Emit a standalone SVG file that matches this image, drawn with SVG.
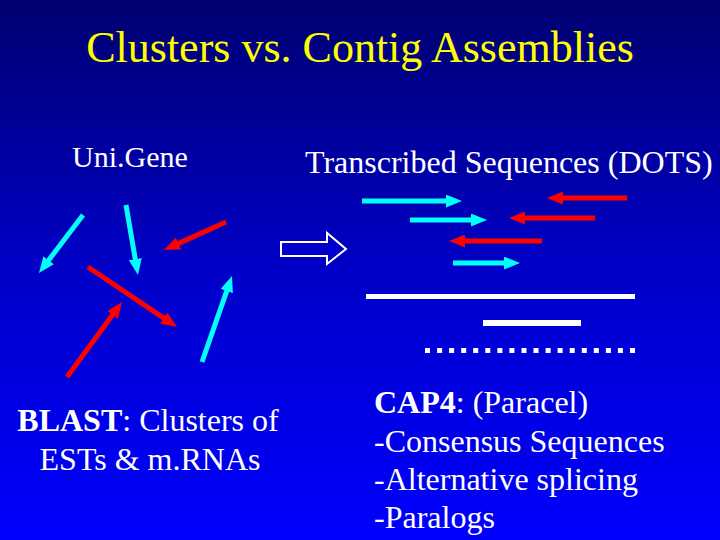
<svg xmlns="http://www.w3.org/2000/svg" width="720" height="540" viewBox="0 0 720 540">
  <defs>
    <linearGradient id="bg" x1="0" y1="0" x2="0" y2="1">
      <stop offset="0" stop-color="#000070"/>
      <stop offset="0.5" stop-color="#0000C8"/>
      <stop offset="1" stop-color="#0000FF"/>
    </linearGradient>
    <marker id="hc" markerUnits="userSpaceOnUse" viewBox="0 0 16 13" refX="6" refY="6.5" markerWidth="16" markerHeight="13" orient="auto">
      <path d="M0,0 L16,6.5 L0,13 Z" fill="#00FFFF"/>
    </marker>
    <marker id="hr" markerUnits="userSpaceOnUse" viewBox="0 0 16 13" refX="6" refY="6.5" markerWidth="16" markerHeight="13" orient="auto">
      <path d="M0,0 L16,6.5 L0,13 Z" fill="#FF0000"/>
    </marker>
  </defs>
  <style>
    text { font-family: 'Liberation Serif', 'DejaVu Serif', 'Times New Roman', serif; }
    .t { fill: #FFFFFF; }
    .title { fill: #FFFF00; font-size: 44px; }
    .b { font-weight: bold; }
    .cy { stroke: #00FFFF; stroke-width: 5; fill: none; marker-end: url(#hc); }
    .rd { stroke: #FF0000; stroke-width: 5; fill: none; marker-end: url(#hr); }
    .bar { fill: #FFFFFF; }
  </style>
  <rect x="0" y="0" width="720" height="540" fill="url(#bg)"/>

  <g id="title">
    <text class="title" x="360" y="62" text-anchor="middle" font-family="Liberation Serif, DejaVu Serif, serif">Clusters vs. Contig Assemblies</text>
  </g>

  <g id="unigene-label">
    <text class="t" x="72" y="167" font-size="30" font-family="Liberation Serif, DejaVu Serif, serif">Uni.Gene</text>
  </g>
  <g id="dots-label">
    <text class="t" x="305" y="173" font-size="32" font-family="Liberation Serif, DejaVu Serif, serif">Transcribed Sequences (DOTS)</text>
  </g>

  <g id="connectors">
    <line class="cy" x1="83" y1="215" x2="45" y2="265"/>
    <line class="cy" x1="126" y1="205" x2="136.3" y2="265.1"/>
    <line class="rd" x1="226" y1="222" x2="173.1" y2="245.9"/>
    <line class="rd" x1="88" y1="267" x2="168.7" y2="321.4"/>
    <line class="rd" x1="67" y1="377" x2="116.1" y2="310.1"/>
    <line class="cy" x1="202" y1="362" x2="228.7" y2="285.4"/>
    <line class="cy" x1="362" y1="201" x2="452" y2="201"/>
    <line class="rd" x1="627" y1="198" x2="557" y2="198"/>
    <line class="cy" x1="410" y1="220" x2="477" y2="220"/>
    <line class="rd" x1="595" y1="218" x2="519" y2="218"/>
    <line class="rd" x1="542" y1="241" x2="459" y2="241"/>
    <line class="cy" x1="453" y1="263" x2="510" y2="263"/>
  </g>

  <g id="block-arrow">
    <polygon points="281,242 327,242 327,233 346,249 327,264 327,256 281,256" fill="#0000CC" stroke="#FFFFFF" stroke-width="2"/>
  </g>

  <g id="contigs">
    <rect class="bar" x="366" y="294" width="269" height="5"/>
    <rect class="bar" x="483" y="320" width="98" height="6"/>
    <g id="dotted">
      <rect class="bar" x="425" y="348" width="5" height="5"/>
      <rect class="bar" x="437.1" y="348" width="5" height="5"/>
      <rect class="bar" x="449.1" y="348" width="5" height="5"/>
      <rect class="bar" x="461.2" y="348" width="5" height="5"/>
      <rect class="bar" x="473.2" y="348" width="5" height="5"/>
      <rect class="bar" x="485.3" y="348" width="5" height="5"/>
      <rect class="bar" x="497.4" y="348" width="5" height="5"/>
      <rect class="bar" x="509.4" y="348" width="5" height="5"/>
      <rect class="bar" x="521.5" y="348" width="5" height="5"/>
      <rect class="bar" x="533.5" y="348" width="5" height="5"/>
      <rect class="bar" x="545.6" y="348" width="5" height="5"/>
      <rect class="bar" x="557.6" y="348" width="5" height="5"/>
      <rect class="bar" x="569.7" y="348" width="5" height="5"/>
      <rect class="bar" x="581.8" y="348" width="5" height="5"/>
      <rect class="bar" x="593.8" y="348" width="5" height="5"/>
      <rect class="bar" x="605.9" y="348" width="5" height="5"/>
      <rect class="bar" x="617.9" y="348" width="5" height="5"/>
      <rect class="bar" x="630" y="348" width="5" height="5"/>
    </g>
  </g>

  <g id="blast-text">
    <text class="t" x="148" y="431" font-size="32" text-anchor="middle" font-family="Liberation Serif, DejaVu Serif, serif"><tspan class="b">BLAST</tspan>: Clusters of</text>
    <text class="t" x="150" y="470" font-size="32" text-anchor="middle" font-family="Liberation Serif, DejaVu Serif, serif">ESTs &amp; m.RNAs</text>
  </g>

  <g id="cap4-text">
    <text class="t" x="374" y="413" font-size="32" font-family="Liberation Serif, DejaVu Serif, serif"><tspan class="b">CAP4</tspan>: (Paracel)</text>
    <text class="t" x="374" y="452" font-size="32" font-family="Liberation Serif, DejaVu Serif, serif">-Consensus Sequences</text>
    <text class="t" x="374" y="490" font-size="32" font-family="Liberation Serif, DejaVu Serif, serif">-Alternative splicing</text>
    <text class="t" x="374" y="528" font-size="32" font-family="Liberation Serif, DejaVu Serif, serif">-Paralogs</text>
  </g>
</svg>
